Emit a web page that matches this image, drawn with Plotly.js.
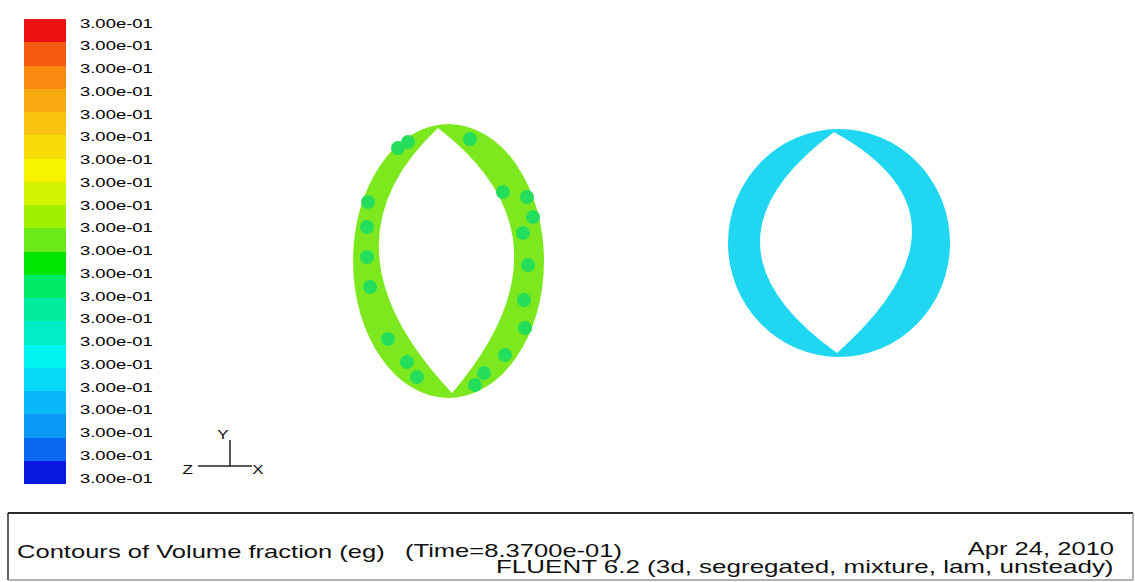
<!DOCTYPE html>
<html>
<head>
<meta charset="utf-8">
<script src="https://cdn.plot.ly/plotly-3.0.1.min.js"></script>
<style>
html,body{margin:0;padding:0;background:#ffffff;overflow:hidden}
#plot{width:1135px;height:582px}
</style>
</head>
<body>
<div id="plot"></div>
<script>
// ---- colour map bands (bottom = blue, top = red) ----
const bandColors = ['#0818e0','#0866f0','#0898f8','#08b8f8','#08d8f8','#00f4f2',
                    '#00eec6','#00ec9c','#00ea6a','#00e600','#6aea18','#a0f000',
                    '#d2f400','#f8f400','#f8dc08','#f8c410','#f8a810','#f88a10',
                    '#f65a12','#ec1212'];
const bandIndex = [0,1,2,3,4,5,6,7,8,9,10,11,12,13,14,15,16,17,18,19];
const bandSpan  = [1,1,1,1,1,1,1,1,1,1,1,1,1,1,1,1,1,1,1,1];
const levelTicks = [0,1,2,3,4,5,6,7,8,9,10,11,12,13,14,15,16,17,18,19,20];
const levelLabels = ['3.00e-01','3.00e-01','3.00e-01','3.00e-01','3.00e-01','3.00e-01','3.00e-01',
                     '3.00e-01','3.00e-01','3.00e-01','3.00e-01','3.00e-01','3.00e-01','3.00e-01',
                     '3.00e-01','3.00e-01','3.00e-01','3.00e-01','3.00e-01','3.00e-01','3.00e-01'];

// ---- ring geometry (view coordinates) ----
const ringColors = ['#7ee81e', '#1fd7f0'];
const outerX0 = [353, 728], outerX1 = [544, 950];
const outerY0 = [124, 129], outerY1 = [398, 357];
const lensTopX = [438, 834],  lensTopY = [128, 132];
const lensBotX = [452, 837],  lensBotY = [393, 353];
const lensLeftX = [379, 760], lensLeftY = [253, 243];
const lensRightX = [514, 912], lensRightY = [250, 230];

// ---- phase blobs inside the left ring ----
const dotX = [398,408,470,368,367,367,370,388,407,417,503,527,533,523,528,524,525,505,484,475];
const dotY = [148,142,139,202,227,257,287,339,362,377,192,197,217,233,265,300,328,355,373,385];
const dotColor = '#24dd5a';

// ---- axis triad ----
const triadX = [198, 252, null, 230, 230];
const triadY = [466, 466, null, 440, 466];
const triadLabels = ['Y', 'Z', 'X'];
const triadLabelX = [223, 187, 258];
const triadLabelY = [435, 470, 470];

// ---- footer texts ----
const titleText = 'Contours of Volume fraction (eg)';
const timeText = '(Time=8.3700e-01)';
const dateText = 'Apr 24, 2010';
const solverText = 'FLUENT 6.2 (3d, segregated, mixture, lam, unsteady)';

const FONT = 'Liberation Sans, Arial, Helvetica, sans-serif';
const STRETCH = 1.42;

const shapes = [];
for (let i = 0; i < ringColors.length; i++) {
  shapes.push({type:'circle', xref:'x', yref:'y', layer:'below',
    x0: outerX0[i], x1: outerX1[i], y0: outerY0[i], y1: outerY1[i],
    fillcolor: ringColors[i], line:{width:0}});
  const mx = 0.5 * (lensTopX[i] + lensBotX[i]);
  const my = 0.5 * (lensTopY[i] + lensBotY[i]);
  const clx = 2 * lensLeftX[i] - mx, cly = 2 * lensLeftY[i] - my;
  const crx = 2 * lensRightX[i] - mx, cry = 2 * lensRightY[i] - my;
  shapes.push({type:'path', xref:'x', yref:'y', layer:'below',
    path: `M ${lensTopX[i]},${lensTopY[i]} Q ${clx},${cly} ${lensBotX[i]},${lensBotY[i]} Q ${crx},${cry} ${lensTopX[i]},${lensTopY[i]} Z`,
    fillcolor:'#ffffff', line:{width:0}});
}
// footer frame
const fx0 = 8/1135, fx1 = 1133/1135, fy0 = 1 - 580/582, fy1 = 1 - 513/582;
shapes.push({type:'rect', xref:'paper', yref:'paper', x0:fx0, x1:fx1, y0:fy0, y1:fy1, fillcolor:'#ffffff', line:{width:0}, layer:'below'});
shapes.push({type:'line', xref:'paper', yref:'paper', x0:fx0, x1:fx1, y0:fy1, y1:fy1, line:{color:'#2a2a2a', width:2}});
shapes.push({type:'line', xref:'paper', yref:'paper', x0:fx0, x1:fx0, y0:fy0, y1:fy1, line:{color:'#2a2a2a', width:1.5}});
shapes.push({type:'line', xref:'paper', yref:'paper', x0:fx1, x1:fx1, y0:fy0, y1:fy1, line:{color:'#9a9a9a', width:1.5}});
shapes.push({type:'line', xref:'paper', yref:'paper', x0:fx0, x1:fx1, y0:fy0, y1:fy0, line:{color:'#9a9a9a', width:1.5}});

const annotations = [];
for (let i = 0; i < triadLabels.length; i++) {
  annotations.push({xref:'x', yref:'y', x: triadLabelX[i], y: triadLabelY[i], text: triadLabels[i],
    showarrow:false, xanchor:'center', yanchor:'middle', align:'center',
    font:{family:FONT, size:12, color:'#111'}});
}
const footFont = {family:FONT, size:18, color:'#111'};
annotations.push({xref:'paper', yref:'paper', x:15/1135, y:1-552/582, text:titleText, showarrow:false, xanchor:'left', yanchor:'middle', align:'left', font:footFont});
annotations.push({xref:'paper', yref:'paper', x:403/1135, y:1-551/582, text:timeText, showarrow:false, xanchor:'left', yanchor:'middle', align:'left', font:footFont});
annotations.push({xref:'paper', yref:'paper', x:1116/1135, y:1-549/582, text:dateText, showarrow:false, xanchor:'right', yanchor:'middle', align:'right', font:footFont});
annotations.push({xref:'paper', yref:'paper', x:1116/1135, y:1-566/582, text:solverText, showarrow:false, xanchor:'right', yanchor:'middle', align:'right',
  font:{family:FONT, size:18.3, color:'#111'}});

const traces = [
  {type:'bar', x: bandIndex.map(() => 0), y: bandSpan, base: bandIndex, width: 1,
   marker:{color: bandColors, line:{width:0}}, xaxis:'x2', yaxis:'y2', hoverinfo:'skip', showlegend:false},
  {type:'scatter', mode:'markers', x:[0], y:[0], xaxis:'x2', yaxis:'y3', marker:{opacity:0}, hoverinfo:'skip', showlegend:false},
  {type:'scatter', mode:'markers', x: dotX, y: dotY, xaxis:'x', yaxis:'y',
   marker:{size:14, color: dotColor, line:{width:0}}, hoverinfo:'skip', showlegend:false},
  {type:'scatter', mode:'lines', x: triadX, y: triadY, xaxis:'x', yaxis:'y',
   line:{color:'#222', width:1.5}, connectgaps:false, hoverinfo:'skip', showlegend:false}
];

const layout = {
  width:1135, height:582, margin:{l:0, r:0, t:0, b:0, pad:0},
  paper_bgcolor:'#ffffff', plot_bgcolor:'rgba(0,0,0,0)', showlegend:false, bargap:0,
  xaxis:{domain:[0,1], range:[0,1135], visible:false},
  yaxis:{domain:[0,1], range:[582,0], visible:false},
  xaxis2:{domain:[24/1135, 66/1135], range:[-0.5,0.5], visible:false, anchor:'y2'},
  yaxis2:{domain:[1-484/582, 1-19/582], range:[0,20], visible:false, anchor:'x2'},
  yaxis3:{domain:[1-478/582, 1-23/582], range:[0,20], anchor:'free', position:79/1135, side:'right',
          tickmode:'array', tickvals: levelTicks, ticktext: levelLabels, ticks:'', showline:false,
          showgrid:false, zeroline:false, automargin:false,
          tickfont:{family:FONT, size:13, color:'#000'}},
  shapes: shapes, annotations: annotations
};

function stretchText(el, s) {
  const bb = el.getBBox();
  const anchor = el.getAttribute('text-anchor') || 'start';
  const ax = anchor === 'end' ? bb.x + bb.width : (anchor === 'middle' ? bb.x + bb.width / 2 : bb.x);
  const prev = el.getAttribute('transform') || '';
  el.setAttribute('transform', prev + ` translate(${ax},0) scale(${s},1) translate(${-ax},0)`);
}

Plotly.newPlot('plot', traces, layout, {staticPlot:true, displayModeBar:false}).then(gd => {
  gd.querySelectorAll('.annotation-text').forEach(el => stretchText(el, STRETCH));
  gd.querySelectorAll('.yaxislayer-above text').forEach(el => stretchText(el, STRETCH));
});
</script>
</body>
</html>
